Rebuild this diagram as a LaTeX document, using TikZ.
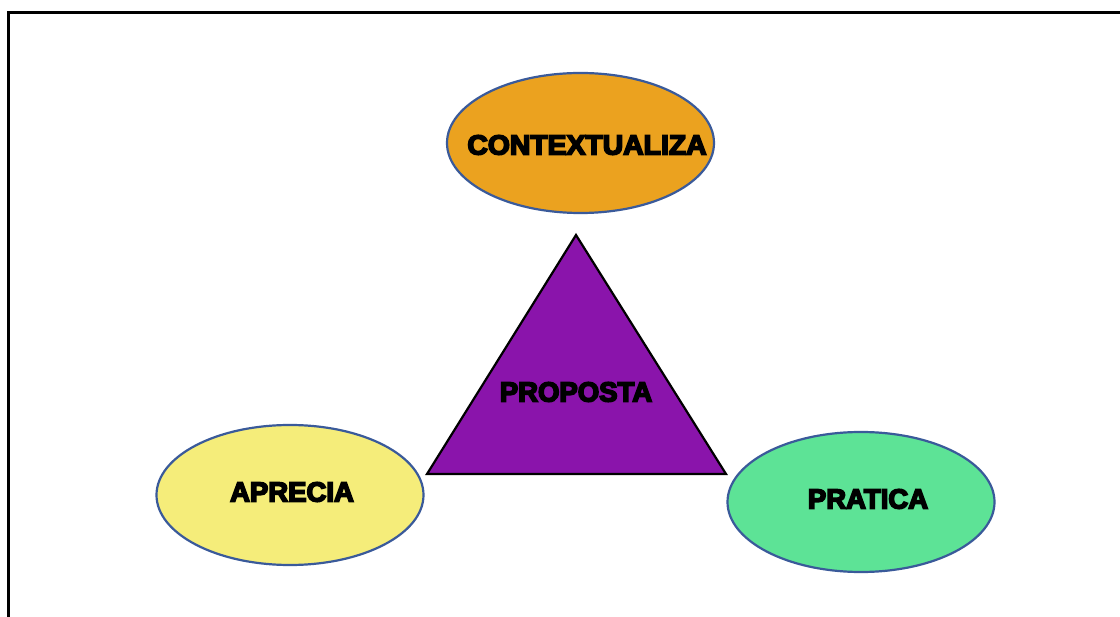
\documentclass[tikz,border=0pt]{standalone}
\usepackage{fontspec}
\setmainfont{Liberation Sans}
\newfontfamily\heavyfont{Liberation Sans Bold}[FakeBold=6]
\usetikzlibrary{shapes.geometric}
\definecolor{ctxorange}{HTML}{EBA21F}
\definecolor{aprYellow}{HTML}{F5ED7A}
\definecolor{praGreen}{HTML}{5DE396}
\definecolor{propPurple}{HTML}{8A14AB}
\definecolor{edgeBlue}{HTML}{3A5A9A}
\tikzset{
  bubble/.style={ellipse, draw=edgeBlue, line width=2.2pt, minimum width=267pt, minimum height=140pt, inner sep=0pt},
  lbl/.style={font=\heavyfont\fontsize{27.5}{31}\selectfont, text=black, inner sep=0pt, anchor=center},
}
\begin{document}
\begin{tikzpicture}[x=1pt,y=-1pt]
\useasboundingbox (0,0) rectangle (1120,617);
\fill[white] (0,0) rectangle (1120,617);
% frame
\coordinate (fbl) at (8,630);
\coordinate (ftl) at (8,13);
\coordinate (ftr) at (1130,13);
\draw[line width=3pt] (fbl) -- (ftl) -- (ftr);
% ellipses
\node[bubble, fill=ctxorange] (ctx) at (580.5,143) {};
\node[bubble, fill=aprYellow] (apr) at (290,495) {};
\node[bubble, fill=praGreen] (pra) at (861,502) {};
% triangle
\coordinate (tA) at (576,235);
\coordinate (tL) at (427,474);
\coordinate (tR) at (726,474);
\draw[fill=propPurple, line width=2.2pt, line join=miter] (tA) -- (tL) -- (tR) -- cycle;
% labels
\node[lbl] (ctxt) at (587,145) {\scalebox{1.03}[1]{CONTEXTUALIZA}};
\node[lbl] (propt) at (576,392) {PROPOSTA};
\node[lbl] (aprt) at (292,492) {APRECIA};
\node[lbl] (prat) at (868,499) {PRATICA};
\end{tikzpicture}
\end{document}
